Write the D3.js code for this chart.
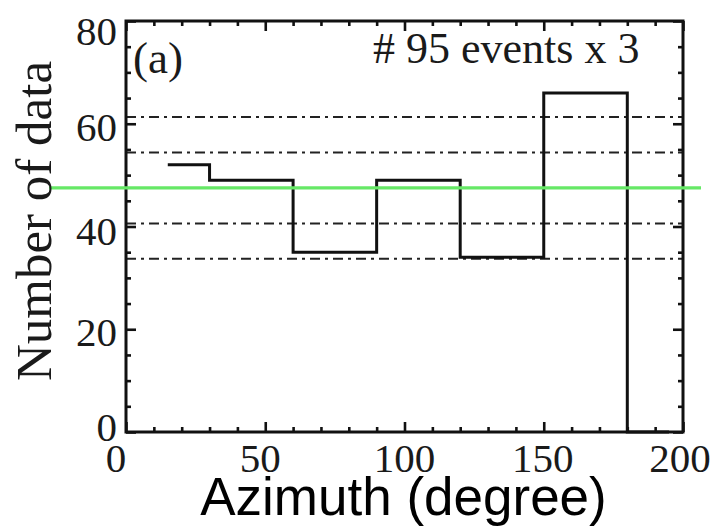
<!DOCTYPE html>
<html>
<head>
<meta charset="utf-8">
<script src="https://cdn.jsdelivr.net/npm/d3@7"></script>
<style>
  html, body { margin: 0; padding: 0; background: #fff; }
  svg { display: block; }
</style>
</head>
<body>
<svg id="chart" width="718" height="527"></svg>
<script>
// Azimuth histogram: bin centres (degrees) and counts per bin
const azimuthCenters = [15, 45, 75, 105, 135, 165, 195];
const counts = [52, 49, 35, 49, 34, 66, 0];

// Mean count per bin and the dash-dot spread levels around it
const meanLevel = 47.5;
const spreadLevels = [33.7, 40.6, 54.4, 61.3];

// Axis ticks
const xMajorTicks = [0, 50, 100, 150, 200];
const xMinorTicks = [10, 20, 30, 40, 60, 70, 80, 90, 110, 120, 130, 140, 160, 170, 180, 190];
const yMajorTicks = [0, 20, 40, 60, 80];
const yMinorTicks = [5, 10, 15, 25, 30, 35, 45, 50, 55, 65, 70, 75];

const panelLabel = "(a)";
const noteText = "# 95 events x 3";
const xTitle = "Azimuth (degree)";
const yTitle = "Number of data";

const svg = d3.select("#chart");
const plot = { left: 126, right: 683, top: 21, bottom: 432 };

const x = d3.scaleLinear().domain([0, 200]).range([plot.left, plot.right]);
const y = d3.scaleLinear().domain([0, 80]).range([plot.bottom, plot.top]);

const serif = "'Liberation Serif', 'Times New Roman', serif";
const ink = "#1a1a1a";

// Dash-dot spread lines
svg.append("g")
  .selectAll("line")
  .data(spreadLevels)
  .join("line")
  .attr("x1", x(0)).attr("x2", x(200))
  .attr("y1", d => y(d)).attr("y2", d => y(d))
  .attr("stroke", "#222")
  .attr("stroke-width", 2)
  .attr("stroke-dasharray", "10,5,3,5");

// Histogram drawn as a centred step line
const step = d3.line()
  .x((d, i) => x(azimuthCenters[i]))
  .y(d => y(d))
  .curve(d3.curveStep);

svg.append("path")
  .datum(counts)
  .attr("d", step)
  .attr("fill", "none")
  .attr("stroke", "#111")
  .attr("stroke-width", 3)
  .attr("stroke-linejoin", "miter");

// Ticks: inward on all four sides, mirrored
function tickAxis(axisFn, scale, values, size, transform) {
  svg.append("g")
    .attr("transform", transform)
    .call(axisFn(scale).tickValues(values).tickSize(size).tickFormat(""))
    .call(g => g.select(".domain").remove())
    .call(g => g.selectAll("line").attr("stroke", "#111").attr("stroke-width", 2.6));
}
tickAxis(d3.axisLeft, y, yMajorTicks, -10, `translate(${plot.left},0)`);
tickAxis(d3.axisLeft, y, yMinorTicks, -5, `translate(${plot.left},0)`);
tickAxis(d3.axisRight, y, yMajorTicks, -10, `translate(${plot.right},0)`);
tickAxis(d3.axisRight, y, yMinorTicks, -5, `translate(${plot.right},0)`);
tickAxis(d3.axisBottom, x, xMajorTicks, -10, `translate(0,${plot.bottom})`);
tickAxis(d3.axisBottom, x, xMinorTicks, -5, `translate(0,${plot.bottom})`);
tickAxis(d3.axisTop, x, xMajorTicks, -10, `translate(0,${plot.top})`);
tickAxis(d3.axisTop, x, xMinorTicks, -5, `translate(0,${plot.top})`);

// Frame
svg.append("rect")
  .attr("x", plot.left).attr("y", plot.top)
  .attr("width", plot.right - plot.left)
  .attr("height", plot.bottom - plot.top)
  .attr("fill", "none")
  .attr("stroke", "#111")
  .attr("stroke-width", 3);

// Mean level, running past the frame on both sides
svg.append("line")
  .datum(meanLevel)
  .attr("x1", 49).attr("x2", 701)
  .attr("y1", d => y(d)).attr("y2", d => y(d))
  .attr("stroke", "#66e866")
  .attr("stroke-width", 3.2);

// Tick labels
const yLabelShift = { 0: -5, 20: 3, 40: 5, 60: 3, 80: 10 };
svg.append("g")
  .selectAll("text")
  .data(yMajorTicks)
  .join("text")
  .attr("x", 117)
  .attr("y", d => y(d) + yLabelShift[d])
  .attr("dy", "0.34em")
  .attr("text-anchor", "end")
  .attr("font-family", serif)
  .attr("font-size", 41)
  .attr("fill", ink)
  .text(d => d);

const xLabelShift = { 0: -10, 50: -5, 100: 0, 150: -1, 200: -3 };
svg.append("g")
  .selectAll("text")
  .data(xMajorTicks)
  .join("text")
  .attr("x", d => x(d) + xLabelShift[d])
  .attr("y", 472)
  .attr("text-anchor", "middle")
  .attr("font-family", serif)
  .attr("font-size", 41)
  .attr("fill", ink)
  .text(d => d);

// Panel label and note
svg.append("text")
  .attr("x", 133).attr("y", 73)
  .attr("font-family", serif)
  .attr("font-size", 45)
  .attr("fill", ink)
  .text(panelLabel);

svg.append("text")
  .attr("x", 373).attr("y", 63)
  .attr("font-family", serif)
  .attr("font-size", 44)
  .attr("fill", ink)
  .text(noteText);

// Axis titles
svg.append("text")
  .attr("x", (plot.left + plot.right) / 2 - 1)
  .attr("y", 515)
  .attr("text-anchor", "middle")
  .attr("font-family", "'Liberation Sans', Arial, sans-serif")
  .attr("font-size", 53)
  .attr("fill", "#000")
  .text(xTitle);

svg.append("text")
  .attr("transform", "translate(51,221) rotate(-90)")
  .attr("text-anchor", "middle")
  .attr("font-family", serif)
  .attr("font-size", 51)
  .attr("fill", ink)
  .text(yTitle);
</script>
</body>
</html>
